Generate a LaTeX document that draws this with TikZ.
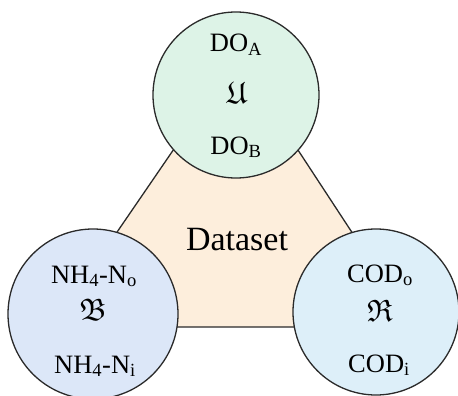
\documentclass[tikz,border=0pt]{standalone}
\usepackage{amssymb}
\usepackage{fontspec}
\setmainfont{Liberation Serif}
\definecolor{triFill}{HTML}{FDEEDC}
\definecolor{greenFill}{HTML}{DDF3E7}
\definecolor{blueFill}{HTML}{DCE7F8}
\definecolor{cyanFill}{HTML}{DDEFF9}
\definecolor{edge}{HTML}{2A2A2A}
\tikzset{
  group/.style={circle, draw=edge, line width=1.3pt, inner sep=0pt},
  lbl/.style={anchor=base, inner sep=0pt, font=\fontsize{26.5}{30}\selectfont},
  sym/.style={anchor=center, inner sep=0pt, font=\fontsize{31}{34}\selectfont},
}
\begin{document}
\begin{tikzpicture}[x=1pt,y=-1pt]
\useasboundingbox (0,0) rectangle (458,396);
% central triangle
\coordinate (apex) at (237,57);
\coordinate (bl) at (52,327);
\coordinate (br) at (414,327);
\draw[fill=triFill, draw=edge, line width=1.3pt, line join=round] (apex) -- (bl) -- (br) -- cycle;
\node[anchor=base, inner sep=0pt, font=\fontsize{34}{40}\selectfont] (ds) at (237,250) {Dataset};
% three variable groups
\node[group, fill=greenFill, minimum size=166pt] (top) at (236,95) {};
\node[group, fill=blueFill, minimum size=170pt] (left) at (93,314) {};
\node[group, fill=cyanFill, minimum size=166pt] (right) at (376,312) {};
% top group
\node[lbl] (doa) at (236,52) {DO\textsubscript{A}};
\node[sym] (fu) at (237,93) {$\mathfrak{U}$};
\node[lbl] (dob) at (236,154) {DO\textsubscript{B}};
% left group
\node[lbl] (nho) at (94,283) {NH\textsubscript{4}-N\textsubscript{o}};
\node[sym] (fb) at (93,310) {$\mathfrak{B}$};
\node[lbl] (nhi) at (95,373) {NH\textsubscript{4}-N\textsubscript{i}};
% right group
\node[lbl] (codo) at (380,282) {COD\textsubscript{o}};
\node[sym] (fr) at (380,311) {$\mathfrak{R}$};
\node[lbl] (codi) at (379,372) {COD\textsubscript{i}};
\end{tikzpicture}
\end{document}
